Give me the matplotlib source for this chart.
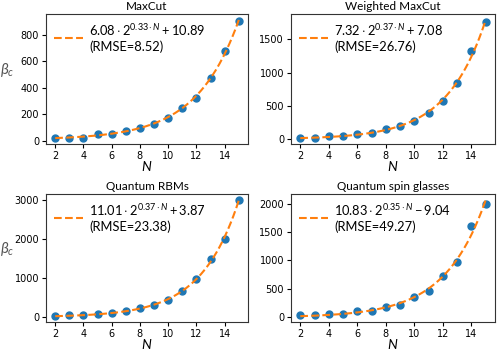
import numpy as np
import matplotlib
matplotlib.use("Agg")
import matplotlib.pyplot as plt

plt.rcParams['mathtext.fontset'] = 'custom'
plt.rcParams['mathtext.rm'] = 'Lato'
plt.rcParams['mathtext.it'] = 'Lato:italic'
plt.rcParams['mathtext.bf'] = 'Lato:bold'

N = np.arange(2, 16)
titles = ["MaxCut", "Weighted MaxCut", "Quantum RBMs", "Quantum spin glasses"]
beta_maxcut = [25, 25, 25, 50, 50, 75, 100, 125, 175, 250, 325, 475, 675, 900]
beta_wmaxcut = [25, 25, 50, 50, 75, 100, 150, 200, 275, 400, 575, 850, 1325, 1750]
beta_qrbm = [25, 50, 50, 75, 100, 150, 225, 300, 450, 675, 975, 1475, 2000, 3000]
beta_qsg = [25, 25, 50, 50, 100, 100, 175, 200, 350, 450, 725, 975, 1600, 2000]
series = [beta_maxcut, beta_wmaxcut, beta_qrbm, beta_qsg]
fit_a = [6.08, 7.32, 11.01, 10.83]
fit_b = [0.33, 0.37, 0.37, 0.35]
fit_c = [10.89, 7.08, 3.87, -9.04]
rmse = [8.52, 26.76, 23.38, 49.27]
yticks = [[0, 200, 400, 600, 800], [0, 500, 1000, 1500], [0, 1000, 2000, 3000], [0, 500, 1000, 1500, 2000]]


def fit_exp(x, y):
    # least-squares fit of y = a*exp(k*x) + c to the plotted points
    x = np.asarray(x, float)
    y = np.asarray(y, float)
    best = None
    for k in np.linspace(0.1, 0.6, 5001):
        A = np.column_stack([np.exp(k * x), np.ones_like(x)])
        coef, *_ = np.linalg.lstsq(A, y, rcond=None)
        r = np.sum((A @ coef - y) ** 2)
        if best is None or r < best[0]:
            best = (r, k, coef)
    return best[1], best[2]


W, H = 498, 351
boxes = [(46, 14, 248, 144), (291, 14, 495, 144), (46, 194, 248, 322), (291, 194, 495, 322)]
fig = plt.figure(figsize=(W/100, H/100), dpi=100)
for i in range(4):
    x0, y0, x1, y1 = boxes[i]
    ax = fig.add_axes([x0/W, 1 - y1/H, (x1-x0)/W, (y1-y0)/H])
    ax.plot(N, series[i], 'o', color='C0', ms=5, zorder=2)
    k, (a, c) = fit_exp(N, series[i])
    Nd = np.linspace(2, 15, 200)
    fit = a * np.exp(k * Nd) + c
    sign = '+' if fit_c[i] >= 0 else '-'
    lab = (r"$%.2f\cdot 2^{%.2f\cdot N} %s %.2f$" % (fit_a[i], fit_b[i], sign, abs(fit_c[i]))
           + "\n(RMSE=%.2f)" % rmse[i])
    ax.plot(Nd, fit, '--', color='C1', lw=1.5, label=lab, zorder=3)
    ax.set_xticks([2, 4, 6, 8, 10, 12, 14])
    ax.set_yticks(yticks[i])
    ax.tick_params(labelsize=7, length=3, pad=2)
    ax.set_title(titles[i], fontsize=8.5, family='Lato', pad=3)
    ax.set_xlabel(r"$N$", fontsize=10, labelpad=-1)
    if i % 2 == 0:
        ax.set_ylabel(r"$\beta_c$", fontsize=11, rotation=0, color='#555555')
        ax.yaxis.set_label_coords(-0.19, 0.5)
    ax.legend(loc='upper left', frameon=False, handlelength=2.2,
              borderaxespad=0.25, handletextpad=0.5, prop={'family': 'Lato', 'size': 9.3})
    for s in ax.spines.values():
        s.set_color('#333333')
fig.savefig("out.png", dpi=100)
